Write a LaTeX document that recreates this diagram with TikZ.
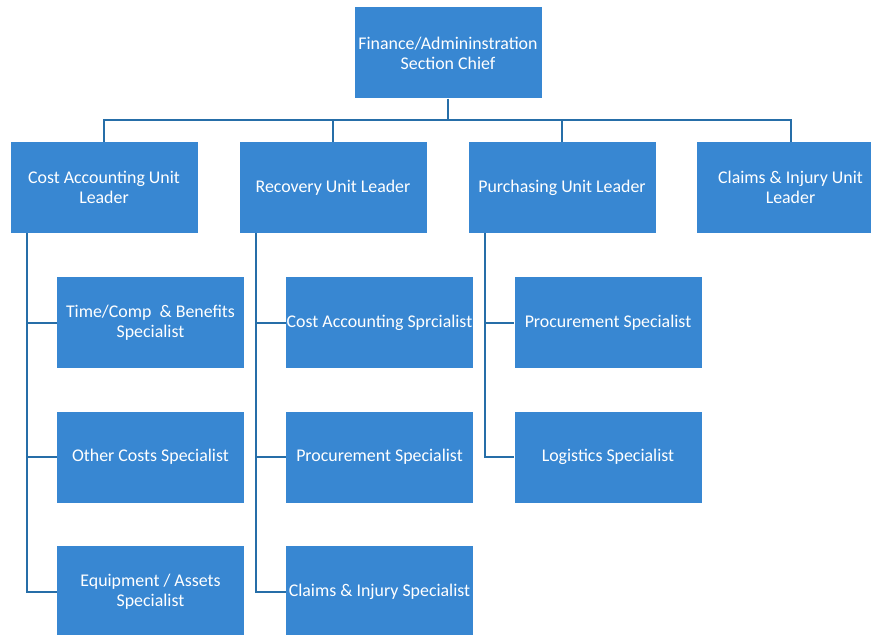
\documentclass[tikz,border=0pt]{standalone}
\usepackage{fontspec}
\setmainfont{Carlito}
\usepackage{tikz}

\definecolor{boxblue}{RGB}{56,135,210}
\definecolor{lineblue}{RGB}{38,110,168}

\begin{document}
\begin{tikzpicture}[x=0.75pt,y=-0.75pt,
        unit/.style={rectangle,fill=boxblue,text=white,minimum width=140.25pt,minimum height=68.25pt,
            inner sep=0pt,align=center,font=\fontsize{13.4}{15}\selectfont},
        link/.style={draw=lineblue,line width=1.5pt}]

    \clip (0,0) rectangle (871,635);

    % section chief and unit leaders
    \node[unit] (chief) at (448,53) {Finance/Admininstration\\Section Chief};
    \node[unit] (cau) at (104,187.5) {Cost Accounting Unit\\Leader};
    \node[unit] (rul) at (333,187.5) {Recovery Unit Leader};
    \node[unit] (pul) at (562,187.5) {Purchasing Unit Leader};
    \node[unit] (ciu) at (790.5,187.5) {Claims \& Injury Unit\\Leader};

    % specialists
    \node[unit] (tcb) at (150.5,322.5) {Time/Comp~ \& Benefits\\Specialist};
    \node[unit] (ocs) at (150.5,457) {Other Costs Specialist};
    \node[unit] (eas) at (150.5,591.5) {Equipment / Assets\\Specialist};
    \node[unit] (cas) at (379.5,322.5) {Cost Accounting Sprcialist};
    \node[unit] (prs) at (379.5,457) {Procurement Specialist};
    \node[unit] (cis) at (379.5,591.5) {Claims \& Injury Specialist};
    \node[unit] (pps) at (608,322.5) {Procurement Specialist};
    \node[unit] (lgs) at (608,457) {Logistics Specialist};

    \coordinate (bus) at (0,120);
    \foreach \u in {cau,rul,pul,ciu}
        \draw[link] (chief.south) |- (bus -| \u.north) -- (\u.north);

    \path (cau.south west) ++(16.5,0) coordinate (cat);
    \path (rul.south west) ++(16.5,0) coordinate (rut);
    \path (pul.south west) ++(16.5,0) coordinate (put);

    \foreach \s in {tcb,ocs,eas}
        \draw[link] (cat) |- (\s.west);
    \foreach \s in {cas,prs,cis}
        \draw[link] (rut) |- (\s.west);
    \foreach \s in {pps,lgs}
        \draw[link] (put) |- (\s.west);

\end{tikzpicture}
\end{document}
